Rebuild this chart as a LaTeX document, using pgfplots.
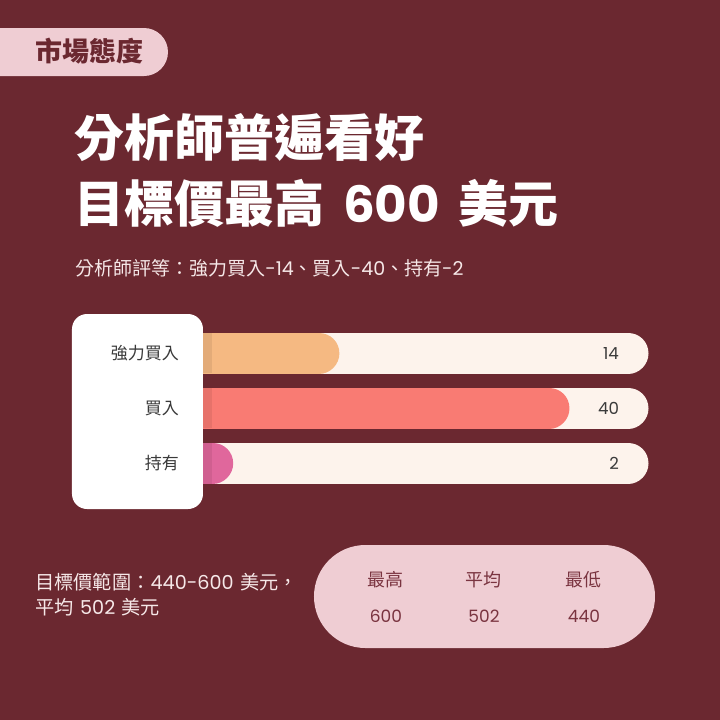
\documentclass[border=0pt]{standalone}
\usepackage{pgfplots}
\pgfplotsset{compat=1.18}
\usepackage{fontspec}
\newfontfamily\cjk{Noto Sans CJK TC}
\newfontfamily\pop{Poppins}

\definecolor{bg}{HTML}{6B2830}
\definecolor{tagpink}{HTML}{EFCDD3}
\definecolor{track}{HTML}{FDF3EC}
\definecolor{barA}{HTML}{F5B982}
\definecolor{barB}{HTML}{F97B73}
\definecolor{barC}{HTML}{E0679C}
\definecolor{labeltxt}{HTML}{3A3A3A}
\definecolor{softwhite}{HTML}{F6E8E8}
\definecolor{pilltxt}{HTML}{7A3440}

\begin{document}
\begin{tikzpicture}
\path[use as bounding box] (0pt,0pt) rectangle (360pt,-360pt);
\begin{scope}
\clip (0pt,0pt) rectangle (360pt,-360pt);
\begin{scope}[x=0.5pt,y=-0.5pt]
\fill[bg] (0,0) rectangle (720,720);

% tag
\fill[tagpink, rounded corners=12pt] (-40,28) rectangle (168,76);
\node[anchor=west, text=bg, font=\cjk\bfseries\fontsize{13.5}{16}\selectfont] at (28,51) {市場態度};

% title
\node[anchor=west, text=white, inner sep=0pt, font=\cjk\bfseries\fontsize{25}{30}\selectfont] at (74,138) {分析師普遍看好};
\node[anchor=west, text=white, inner sep=0pt, font=\bfseries\fontsize{25}{30}\selectfont] at (74,203) {{\cjk 目標價最高} {\pop 600} {\cjk 美元}};
\node[anchor=west, text=softwhite, inner sep=0pt, font=\fontsize{9.5}{11}\selectfont] at (75,268)
  {{\cjk 分析師評等：強力買入}{\pop -14}{\cjk 、買入}{\pop -40}{\cjk 、持有}{\pop -2}};
\end{scope}

% bars (axis left edge at px 195, top at px 325.5)
\begin{axis}[
  at={(97.5pt,-162.75pt)}, anchor=north west,
  scale only axis, width=216.5pt, height=82.5pt,
  xmin=0, xmax=48.93, ymin=-0.5, ymax=2.5, y dir=reverse,
  hide axis, clip=false,
]
\draw[track, line width=20.5pt, line cap=round] (axis cs:0,0) -- (axis cs:48.93,0);
\draw[track, line width=20.5pt, line cap=round] (axis cs:0,1) -- (axis cs:48.93,1);
\draw[track, line width=20.5pt, line cap=round] (axis cs:0,2) -- (axis cs:48.93,2);
\addplot[barA, line width=20.5pt, line cap=round] coordinates {(0,0) (14,0)};
\addplot[barB, line width=20.5pt, line cap=round] coordinates {(0,1) (40,1)};
\addplot[barC, line width=20.5pt, line cap=round] coordinates {(0,2) (2,2)};
\end{axis}

\begin{scope}[x=0.5pt,y=-0.5pt]
% shadow strip beside card
\fill[black, opacity=0.07] (203,333) rectangle (212,373);
\fill[black, opacity=0.07] (203,388) rectangle (212,428);
\fill[black, opacity=0.07] (203,443) rectangle (212,484);

% label card
\fill[white, rounded corners=7.5pt] (72,314) rectangle (203,509);
\node[anchor=east, text=labeltxt, font=\cjk\fontsize{8.5}{10}\selectfont] at (186,353) {強力買入};
\node[anchor=east, text=labeltxt, font=\cjk\fontsize{8.5}{10}\selectfont] at (186,408) {買入};
\node[anchor=east, text=labeltxt, font=\cjk\fontsize{8.5}{10}\selectfont] at (186,463) {持有};

% values
\node[anchor=east, text=labeltxt, font=\pop\fontsize{8.3}{10}\selectfont] at (626,353) {14};
\node[anchor=east, text=labeltxt, font=\pop\fontsize{8.3}{10}\selectfont] at (626,408) {40};
\node[anchor=east, text=labeltxt, font=\pop\fontsize{8.3}{10}\selectfont] at (626,463) {2};

% bottom text
\node[anchor=west, text=softwhite, inner sep=0pt, font=\fontsize{9.6}{11}\selectfont] at (35,582)
  {{\cjk 目標價範圍：}{\pop 440-600} {\cjk 美元，}};
\node[anchor=west, text=softwhite, inner sep=0pt, font=\fontsize{9.6}{11}\selectfont] at (35,607)
  {{\cjk 平均} {\pop 502} {\cjk 美元}};

% price pill
\fill[tagpink, rounded corners=25.7pt] (314,545) rectangle (655,648);
\node[text=pilltxt, font=\cjk\fontsize{9}{11}\selectfont] at (386,580) {最高};
\node[text=pilltxt, font=\cjk\fontsize{9}{11}\selectfont] at (484,580) {平均};
\node[text=pilltxt, font=\cjk\fontsize{9}{11}\selectfont] at (584,580) {最低};
\node[text=pilltxt, font=\pop\fontsize{8.5}{11}\selectfont] at (386,616) {600};
\node[text=pilltxt, font=\pop\fontsize{8.5}{11}\selectfont] at (484,616) {502};
\node[text=pilltxt, font=\pop\fontsize{8.5}{11}\selectfont] at (584,616) {440};
\end{scope}
\end{scope}
\end{tikzpicture}
\end{document}
